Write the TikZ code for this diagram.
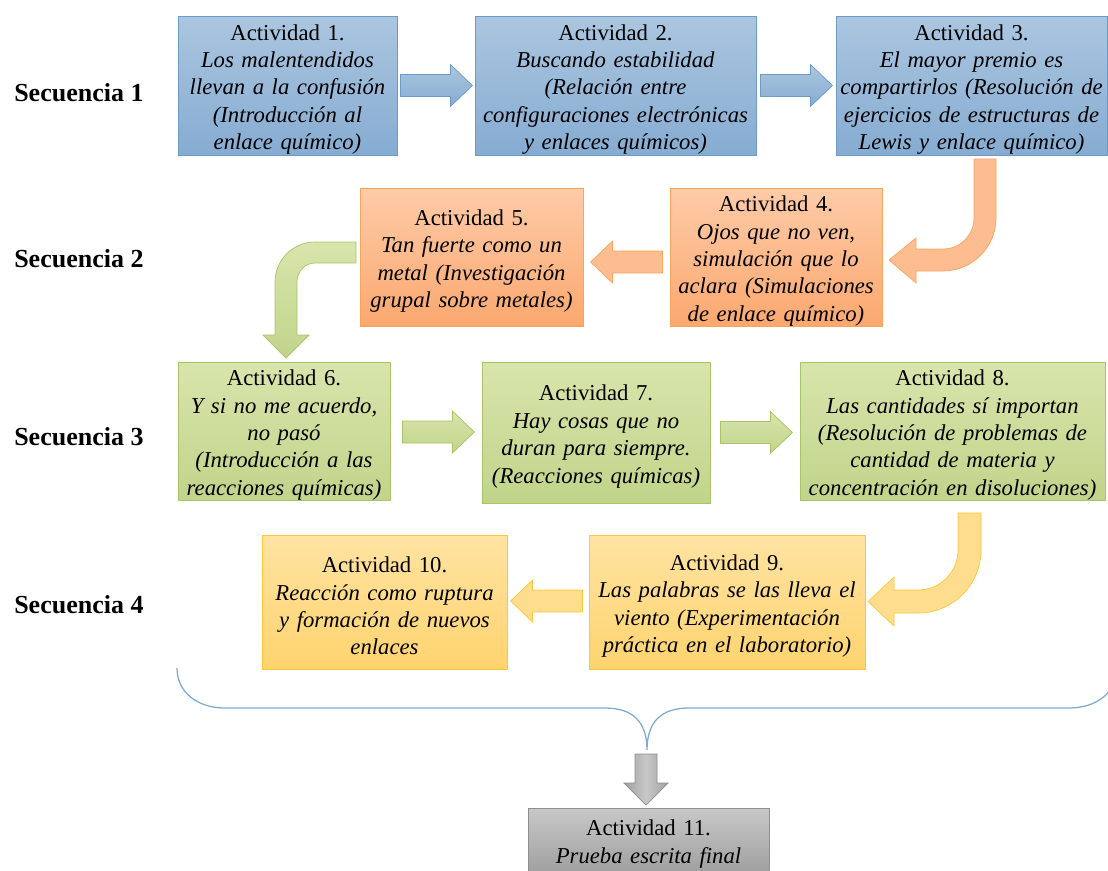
\documentclass[tikz,border=0pt]{standalone}
\usepackage{fontspec}
\setmainfont{Liberation Serif}
\usepackage{xcolor}
\usepackage{tikz}
\usetikzlibrary{positioning}
\usetikzlibrary{calc}

\newlength{\pxu}
\setlength{\pxu}{0.025cm}

\definecolor{BlueTop}{HTML}{ABC6DF}
\definecolor{BlueBot}{HTML}{86ACD2}
\definecolor{BlueLine}{HTML}{6E9AC6}
\definecolor{OrangeTop}{HTML}{FECBA8}
\definecolor{OrangeBot}{HTML}{FBA86F}
\definecolor{OrangeLine}{HTML}{F8A55C}
\definecolor{GreenTop}{HTML}{D8E5AC}
\definecolor{GreenBot}{HTML}{C1D48A}
\definecolor{GreenLine}{HTML}{A9C466}
\definecolor{YellowTop}{HTML}{FFE3A3}
\definecolor{YellowBot}{HTML}{FFD46F}
\definecolor{YellowLine}{HTML}{FFC637}
\definecolor{GrayTop}{HTML}{C8C8C8}
\definecolor{GrayBot}{HTML}{A0A0A0}
\definecolor{GrayLine}{HTML}{8E8E8E}
\definecolor{BraceLine}{HTML}{7FA9D1}

\tikzset{
	act/.style 2 args={rectangle, inner sep=0pt, line width=0.6pt,
		minimum width=#1\pxu, minimum height=#2\pxu, text width=#1\pxu,
		align=center, font=\fontsize{16.15}{19.5}\selectfont,
		execute at end node={\par\vspace{-8\pxu}}},
	bluebox/.style={top color=BlueTop, bottom color=BlueBot, draw=BlueLine},
	orangebox/.style={top color=OrangeTop, bottom color=OrangeBot, draw=OrangeLine},
	greenbox/.style={top color=GreenTop, bottom color=GreenBot, draw=GreenLine},
	yellowbox/.style={top color=YellowTop, bottom color=YellowBot, draw=YellowLine},
	graybox/.style={top color=GrayTop, bottom color=GrayBot, draw=GrayLine},
	bluearrow/.style={top color=BlueTop, bottom color=BlueBot, draw=BlueLine, line width=0.5pt},
	orangearrow/.style={fill=OrangeTop!60!OrangeBot, draw=OrangeLine, line width=0.5pt},
	greenarrow/.style={top color=GreenTop, bottom color=GreenBot, draw=GreenLine, line width=0.5pt},
	yellowarrow/.style={fill=YellowTop!60!YellowBot, draw=YellowLine, line width=0.5pt},
	grayarrow/.style={left color=GrayBot, right color=GrayBot, middle color=GrayTop, draw=GrayLine, line width=0.5pt},
	seqlabel/.style={inner sep=0pt, anchor=base west, font=\fontsize{18.5}{22}\selectfont\bfseries},
	pics/blockarrow/.style={code={
		\path[#1] (0,-11) -- (50,-11) -- (50,-21) -- (72,0) -- (50,21) -- (50,11) -- (0,11) -- cycle;
	}},
}

\begin{document}
\begin{tikzpicture}[x=\pxu, y=-\pxu]

	\useasboundingbox (0,0) rectangle (1108,870);

	% ---------------------
	% Sequence labels
	\node[seqlabel] (Seq1) at (14,101) {Secuencia 1};
	\node[seqlabel] (Seq2) at (14,267) {Secuencia 2};
	\node[seqlabel] (Seq3) at (14,445) {Secuencia 3};
	\node[seqlabel] (Seq4) at (14,613) {Secuencia 4};

	% ---------------------
	% Secuencia 1
	\node[act={219}{139}, bluebox] (Act1) at (287.5,85.5)
		{Actividad 1.\\ \itshape Los malentendidos\\ llevan a la confusión\\ (Introducción al\\ enlace químico)};
	\node[act={281}{139}, bluebox] (Act2) at (615.5,85.5)
		{Actividad 2.\\ \itshape Buscando estabilidad\\ (Relación entre\\ configuraciones electrónicas\\ y enlaces químicos)};
	\node[act={271}{139}, bluebox] (Act3) at (971.5,85.5)
		{Actividad 3.\\ \itshape El mayor premio es\\ compartirlos (Resolución de\\ ejercicios de estructuras de\\ Lewis y enlace químico)};

	\pic at ($(Act1.east)+(3,0)$) {blockarrow=bluearrow};
	\pic at ($(Act2.east)+(4,0)$) {blockarrow=bluearrow};

	% ---------------------
	% Secuencia 2
	\node[act={212}{138}, orangebox] (Act4) at (776,257)
		{Actividad 4.\\ \itshape Ojos que no ven,\\ simulación que lo\\ aclara (Simulaciones\\ de enlace químico)};
	\node[act={223}{138}, orangebox] (Act5) at (471.5,257)
		{Actividad 5.\\ \itshape Tan fuerte como un\\ metal (Investigación\\ grupal sobre metales)};

	\path[orangearrow] (974,159) -- (996,159) -- (996,218)
		.. controls (996,247.3) and (972.3,271) .. (943,271)
		-- (916,271) -- (916,283) -- (889,260) -- (916,238) -- (916,249) -- (943,249)
		.. controls (960.1,249) and (974,235.1) .. (974,218) -- cycle;
	\pic[xscale=-1] at ($(Act4.west)+(-7,5)$) {blockarrow=orangearrow};

	% ---------------------
	% Secuencia 3
	\node[act={212}{138}, greenbox] (Act6) at (284,431)
		{Actividad 6.\\ \itshape Y si no me acuerdo,\\ no pasó\\ (Introducción a las\\ reacciones químicas)};
	\node[act={228}{141}, greenbox] (Act7) at (596,432.5)
		{Actividad 7.\\ \itshape Hay cosas que no\\ duran para siempre.\\ (Reacciones químicas)};
	\node[act={305}{138}, greenbox] (Act8) at (952.5,431)
		{Actividad 8.\\ \itshape Las cantidades sí importan\\ (Resolución de problemas de\\ cantidad de materia y\\ concentración en disoluciones)};

	\path[greenarrow] (356,242) -- (356,263) -- (315,263)
		.. controls (305.1,263) and (297,271.5) .. (297,282)
		-- (297,335) -- (309,335) -- (286,358) -- (263,335) -- (275,335) -- (275,282)
		.. controls (275,259.9) and (292.9,242) .. (315,242) -- cycle;
	\pic at ($(Act6.east)+(12,1)$) {blockarrow=greenarrow};
	\pic at ($(Act7.east)+(10,0)$) {blockarrow=greenarrow};

	% ---------------------
	% Secuencia 4
	\node[act={276}{134}, yellowbox] (Act9) at (727,602)
		{Actividad 9.\\ \itshape Las palabras se las lleva el\\ viento (Experimentación\\ práctica en el laboratorio)};
	\node[act={245}{134}, yellowbox] (Act10) at (384.5,602)
		{Actividad 10.\\ \itshape Reacción como ruptura\\ y formación de nuevos\\ enlaces};

	\path[yellowarrow] (958,513) -- (981,513) -- (981,550)
		.. controls (981,584.8) and (952.8,613) .. (918,613)
		-- (894,613) -- (894,626) -- (868,601.5) -- (894,577) -- (894,590) -- (918,590)
		.. controls (940.1,590) and (958,572.1) .. (958,550) -- cycle;
	\pic[xscale=-1] at ($(Act9.west)+(-6,-1)$) {blockarrow=yellowarrow};

	% ---------------------
	% Brace & final test
	\coordinate (BraceTip) at (647,750);
	\draw[BraceLine, line width=0.9pt] (177,668) .. controls (177,692) and (197,708) .. (225,708)
		-- (605,708) .. controls (633,708) and (647,722) .. (BraceTip)
		.. controls (647,722) and (661,708) .. (689,708)
		-- (1069,708) .. controls (1097,708) and (1117,692) .. (1117,668);

	\node[act={241}{64}, graybox] (Act11) at (648.5,840)
		{Actividad 11.\\ \itshape Prueba escrita final};

	\path[grayarrow] (635,754) -- (657,754) -- (657,783) -- (668,783) -- (646,805)
		-- (624,783) -- (635,783) -- cycle;

\end{tikzpicture}
\end{document}
